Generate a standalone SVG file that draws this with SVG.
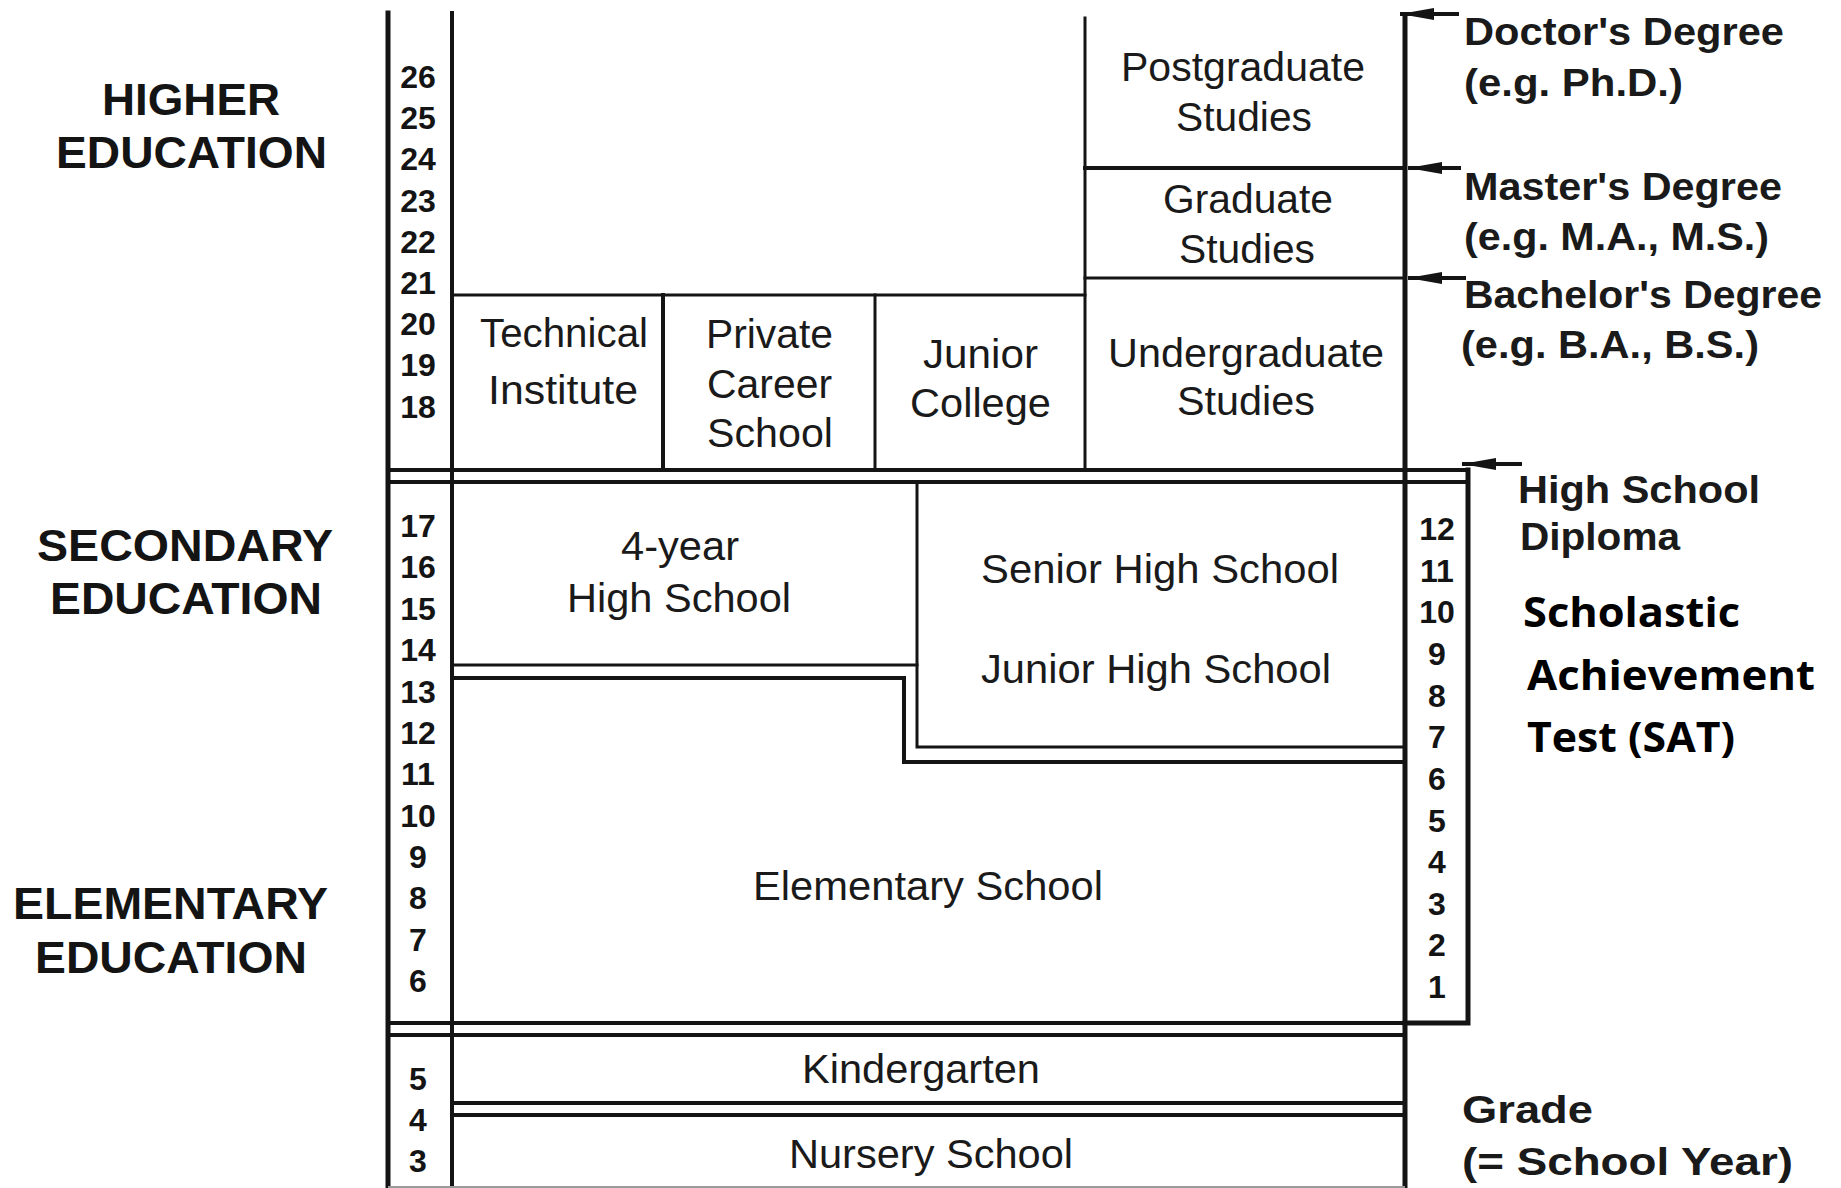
<svg xmlns="http://www.w3.org/2000/svg" width="1841" height="1188" viewBox="0 0 1841 1188">
<defs>
<style>
.ln{stroke:#141414;fill:none;stroke-linecap:square}
.w5{stroke-width:5}
.w4{stroke-width:4}
.w3{stroke-width:3}
.lbl{font-family:"Liberation Sans",Arial,sans-serif;font-weight:700;font-size:44px;fill:#141414}
.node{font-family:"Liberation Sans",Arial,sans-serif;font-size:41px;fill:#1a1a1a}
.num{font-family:"Liberation Sans",Arial,sans-serif;font-weight:700;font-size:32px;fill:#141414;text-anchor:middle}
.deg{font-family:"Liberation Sans",Arial,sans-serif;font-weight:700;font-size:38px;fill:#1a1a1a}
.sat{font-family:"Open Sans","Noto Sans",sans-serif;font-weight:700;font-size:41px;fill:#000}
.arr{stroke:#141414;stroke-width:4;fill:none;marker-end:url(#ah)}
</style>
<marker id="ah" markerUnits="userSpaceOnUse" markerWidth="34" markerHeight="14" refX="34" refY="7" orient="auto">
<path d="M0,1 L34,7 L0,13 Z" fill="#141414"/>
</marker>
</defs>
<rect width="1841" height="1188" fill="#fff"/>

<g id="frame">
<line class="ln w5" x1="388" y1="13" x2="388" y2="1188"/>
<line class="ln w4" x1="452" y1="13" x2="452" y2="1188"/>
<line class="ln w5" x1="1405" y1="15" x2="1405" y2="1188"/>
<line class="ln w3" x1="452" y1="295" x2="1085" y2="295"/>
<line class="ln w3" x1="1085" y1="18" x2="1085" y2="470"/>
<line class="ln w4" x1="1085" y1="168" x2="1405" y2="168"/>
<line class="ln w3" x1="1085" y1="278" x2="1405" y2="278"/>
<line class="ln w4" x1="663" y1="295" x2="663" y2="470"/>
<line class="ln w3" x1="875" y1="295" x2="875" y2="470"/>
<line class="ln w4" x1="388" y1="470" x2="1468" y2="470"/>
<line class="ln w4" x1="388" y1="482" x2="1468" y2="482"/>
<polyline class="ln w5" points="1468,470 1468,1023 1405,1023"/>
<line class="ln w3" x1="452" y1="665" x2="917" y2="665"/>
<polyline class="ln w3" points="917,482 917,747 1405,747"/>
<polyline class="ln w4" points="452,678 904,678 904,762 1405,762"/>
<line class="ln w4" x1="388" y1="1023" x2="1405" y2="1023"/>
<line class="ln w4" x1="388" y1="1035" x2="1405" y2="1035"/>
<line class="ln w4" x1="452" y1="1103" x2="1405" y2="1103"/>
<line class="ln w4" x1="452" y1="1115" x2="1405" y2="1115"/>
<line x1="388" y1="1187" x2="1405" y2="1187" stroke="#9a9a9a" stroke-width="2"/>
</g>

<g id="connectors">
<line class="arr" x1="1459" y1="14" x2="1400" y2="14"/>
<line class="arr" x1="1461" y1="168" x2="1408" y2="168"/>
<line class="arr" x1="1466" y1="278" x2="1408" y2="278"/>
<line class="arr" x1="1522" y1="464" x2="1462" y2="464"/>
</g>

<g id="section-labels">
<g id="higher-education">
<text class="lbl" x="102" y="115" textLength="178" lengthAdjust="spacingAndGlyphs">HIGHER</text>
<text class="lbl" x="56" y="168" textLength="271" lengthAdjust="spacingAndGlyphs">EDUCATION</text>
</g>
<g id="secondary-education">
<text class="lbl" x="37" y="561" textLength="296" lengthAdjust="spacingAndGlyphs">SECONDARY</text>
<text class="lbl" x="50" y="614" textLength="272" lengthAdjust="spacingAndGlyphs">EDUCATION</text>
</g>
<g id="elementary-education">
<text class="lbl" x="13" y="919" textLength="315" lengthAdjust="spacingAndGlyphs">ELEMENTARY</text>
<text class="lbl" x="35" y="973" textLength="272" lengthAdjust="spacingAndGlyphs">EDUCATION</text>
</g>
</g>

<g id="age-scale">
<text class="num" x="418" y="88">26</text>
<text class="num" x="418" y="129">25</text>
<text class="num" x="418" y="170">24</text>
<text class="num" x="418" y="212">23</text>
<text class="num" x="418" y="253">22</text>
<text class="num" x="418" y="294">21</text>
<text class="num" x="418" y="335">20</text>
<text class="num" x="418" y="376">19</text>
<text class="num" x="418" y="418">18</text>
<text class="num" x="418" y="537">17</text>
<text class="num" x="418" y="578">16</text>
<text class="num" x="418" y="620">15</text>
<text class="num" x="418" y="661">14</text>
<text class="num" x="418" y="703">13</text>
<text class="num" x="418" y="744">12</text>
<text class="num" x="418" y="785">11</text>
<text class="num" x="418" y="827">10</text>
<text class="num" x="418" y="868">9</text>
<text class="num" x="418" y="909">8</text>
<text class="num" x="418" y="951">7</text>
<text class="num" x="418" y="992">6</text>
<text class="num" x="418" y="1090">5</text>
<text class="num" x="418" y="1131">4</text>
<text class="num" x="418" y="1172">3</text>
</g>

<g id="grade-scale">
<text class="num" x="1437" y="540">12</text>
<text class="num" x="1437" y="582">11</text>
<text class="num" x="1437" y="623">10</text>
<text class="num" x="1437" y="665">9</text>
<text class="num" x="1437" y="707">8</text>
<text class="num" x="1437" y="748">7</text>
<text class="num" x="1437" y="790">6</text>
<text class="num" x="1437" y="832">5</text>
<text class="num" x="1437" y="873">4</text>
<text class="num" x="1437" y="915">3</text>
<text class="num" x="1437" y="956">2</text>
<text class="num" x="1437" y="998">1</text>
</g>

<g id="technical-institute">
<text class="node" x="480" y="347" font-size="47" textLength="168" lengthAdjust="spacingAndGlyphs">Technical</text>
<text class="node" x="488" y="404" font-size="47" textLength="150" lengthAdjust="spacingAndGlyphs">Institute</text>
</g>
<g id="private-career-school">
<text class="node" x="706" y="348" textLength="127" lengthAdjust="spacingAndGlyphs">Private</text>
<text class="node" x="707" y="398" textLength="125" lengthAdjust="spacingAndGlyphs">Career</text>
<text class="node" x="707" y="447" textLength="126" lengthAdjust="spacingAndGlyphs">School</text>
</g>
<g id="junior-college">
<text class="node" x="923" y="368" textLength="115" lengthAdjust="spacingAndGlyphs">Junior</text>
<text class="node" x="910" y="417" textLength="141" lengthAdjust="spacingAndGlyphs">College</text>
</g>
<g id="undergraduate-studies">
<text class="node" x="1108" y="367" textLength="276" lengthAdjust="spacingAndGlyphs">Undergraduate</text>
<text class="node" x="1177" y="415" textLength="138" lengthAdjust="spacingAndGlyphs">Studies</text>
</g>
<g id="graduate-studies">
<text class="node" x="1163" y="213" textLength="170" lengthAdjust="spacingAndGlyphs">Graduate</text>
<text class="node" x="1179" y="263" textLength="136" lengthAdjust="spacingAndGlyphs">Studies</text>
</g>
<g id="postgraduate-studies">
<text class="node" x="1121" y="81" textLength="244" lengthAdjust="spacingAndGlyphs">Postgraduate</text>
<text class="node" x="1176" y="131" textLength="136" lengthAdjust="spacingAndGlyphs">Studies</text>
</g>
<g id="four-year-high-school">
<text class="node" x="621" y="560" textLength="118" lengthAdjust="spacingAndGlyphs">4-year</text>
<text class="node" x="567" y="612" textLength="224" lengthAdjust="spacingAndGlyphs">High School</text>
</g>
<g id="senior-high-school">
<text class="node" x="981" y="583" textLength="358" lengthAdjust="spacingAndGlyphs">Senior High School</text>
</g>
<g id="junior-high-school">
<text class="node" x="981" y="683" textLength="350" lengthAdjust="spacingAndGlyphs">Junior High School</text>
</g>
<g id="elementary-school">
<text class="node" x="753" y="900" textLength="350" lengthAdjust="spacingAndGlyphs">Elementary School</text>
</g>
<g id="kindergarten">
<text class="node" x="802" y="1083" textLength="238" lengthAdjust="spacingAndGlyphs">Kindergarten</text>
</g>
<g id="nursery-school">
<text class="node" x="789" y="1168" textLength="284" lengthAdjust="spacingAndGlyphs">Nursery School</text>
</g>

<g id="doctors-degree">
<text class="deg" x="1464" y="45" textLength="320" lengthAdjust="spacingAndGlyphs">Doctor's Degree</text>
<text class="deg" x="1464" y="96" textLength="219" lengthAdjust="spacingAndGlyphs">(e.g. Ph.D.)</text>
</g>
<g id="masters-degree">
<text class="deg" x="1464" y="200" textLength="318" lengthAdjust="spacingAndGlyphs">Master's Degree</text>
<text class="deg" x="1464" y="250" textLength="305" lengthAdjust="spacingAndGlyphs">(e.g. M.A., M.S.)</text>
</g>
<g id="bachelors-degree">
<text class="deg" x="1464" y="308" textLength="358" lengthAdjust="spacingAndGlyphs">Bachelor's Degree</text>
<text class="deg" x="1461" y="358" textLength="298" lengthAdjust="spacingAndGlyphs">(e.g. B.A., B.S.)</text>
</g>
<g id="high-school-diploma">
<text class="deg" x="1518" y="503" textLength="242" lengthAdjust="spacingAndGlyphs">High School</text>
<text class="deg" x="1520" y="550" textLength="160" lengthAdjust="spacingAndGlyphs">Diploma</text>
</g>
<g id="sat">
<text class="sat" x="1523" y="627" textLength="217" lengthAdjust="spacingAndGlyphs">Scholastic</text>
<text class="sat" x="1527" y="690" textLength="288" lengthAdjust="spacingAndGlyphs">Achievement</text>
<text class="sat" x="1527" y="752" textLength="208" lengthAdjust="spacingAndGlyphs">Test (SAT)</text>
</g>
<g id="grade-legend">
<text class="deg" x="1462" y="1123" textLength="131" lengthAdjust="spacingAndGlyphs">Grade</text>
<text class="deg" x="1462" y="1175" textLength="331" lengthAdjust="spacingAndGlyphs">(= School Year)</text>
</g>
</svg>
